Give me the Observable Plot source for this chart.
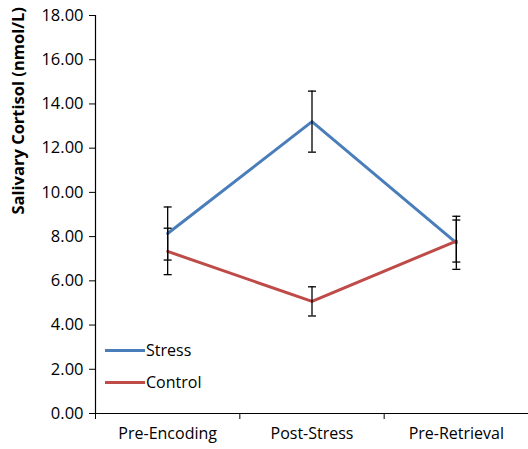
<!DOCTYPE html>
<html>
<head>
<meta charset="utf-8">
<script src="https://cdn.jsdelivr.net/npm/d3@7"></script>
<script src="https://cdn.jsdelivr.net/npm/@observablehq/plot@0.6"></script>
<style>
  html, body { margin: 0; padding: 0; background: #fff; }
  #wrap { position: relative; width: 528px; height: 449px; font-family: "Open Sans", sans-serif; }
  .legend { position: absolute; left: 105px; font-size: 16px; color: #000; display: flex; align-items: center; }
  .legend span.sw { display: inline-block; width: 40px; height: 3px; margin-right: 1px; }
</style>
</head>
<body>
<div id="wrap"></div>
<script>
const categories = ["Pre-Encoding", "Post-Stress", "Pre-Retrieval"];
const seriesNames = ["Stress", "Control"];
const stressMean = [8.14, 13.2, 7.72];
const stressErr  = [1.2, 1.38, 1.2];
const controlMean = [7.33, 5.07, 7.8];
const controlErr  = [1.05, 0.66, 0.95];
const yTicks = [0, 2, 4, 6, 8, 10, 12, 14, 16, 18];
const colors = ["#4a7ebb", "#be4b48"];

const data = [];
categories.forEach((c, i) => {
  data.push({series: "Stress", cat: c, xi: i + 0.5, mean: stressMean[i], err: stressErr[i]});
});
categories.forEach((c, i) => {
  data.push({series: "Control", cat: c, xi: i + 0.5, mean: controlMean[i], err: controlErr[i]});
});

const capSymbol = {
  draw(context, size) {
    const r = Math.sqrt(size / Math.PI);
    context.moveTo(-r, 0);
    context.lineTo(r, 0);
  }
};

const chart = Plot.plot({
  width: 528,
  height: 449,
  marginLeft: 95,
  marginRight: 0,
  marginTop: 15,
  marginBottom: 36,
  style: {fontFamily: "Open Sans, sans-serif", fontSize: "16px", color: "#000", background: "#fff"},
  x: {type: "linear", domain: [0, 3], axis: null},
  y: {type: "linear", domain: [0, 18], axis: null},
  color: {domain: seriesNames, range: colors},
  marks: [
    // y axis
    Plot.axisY({ticks: yTicks, tickFormat: d3.format(".2f"), tickSize: 6, tickPadding: 6, fontSize: 16.5, label: null}),
    Plot.ruleX([0], {stroke: "#000", strokeWidth: 1.2}),
    // x axis
    Plot.ruleY([0], {stroke: "#000", strokeWidth: 1.2}),
    Plot.axisX({ticks: [0, 1, 2, 3], tickFormat: () => "", tickSize: 6, label: null}),
    Plot.axisX({ticks: categories.map((c, i) => i + 0.5), tickFormat: v => categories[Math.round(v - 0.5)], tickSize: 0, tickPadding: 14, fontSize: 16, label: null}),
    // y label
    Plot.text(["Salivary Cortisol (nmol/L)"], {frameAnchor: "left", dx: -77, rotate: -90, fontWeight: "bold", fontSize: 16.5, text: d => d}),
    // lines
    Plot.line(data, {x: "xi", y: "mean", z: "series", stroke: "series", strokeWidth: 3}),
    // error bars
    Plot.ruleX(data, {x: "xi", y1: d => d.mean - d.err, y2: d => d.mean + d.err, stroke: "#000", strokeWidth: 1.3}),
    Plot.dot(data, {x: "xi", y: d => d.mean + d.err, symbol: capSymbol, r: 4, stroke: "#000", strokeWidth: 1.3, fill: "none"}),
    Plot.dot(data, {x: "xi", y: d => d.mean - d.err, symbol: capSymbol, r: 4, stroke: "#000", strokeWidth: 1.3, fill: "none"})
  ]
});

const wrap = document.getElementById("wrap");
wrap.appendChild(chart);

// legend overlay
const leg = [["Stress", 339], ["Control", 371]];
leg.forEach(([name, top], k) => {
  const d = document.createElement("div");
  d.className = "legend";
  d.style.top = top + "px";
  d.innerHTML = `<span class="sw" style="background:${colors[k]}"></span>${name}`;
  wrap.appendChild(d);
});
</script>
</body>
</html>
